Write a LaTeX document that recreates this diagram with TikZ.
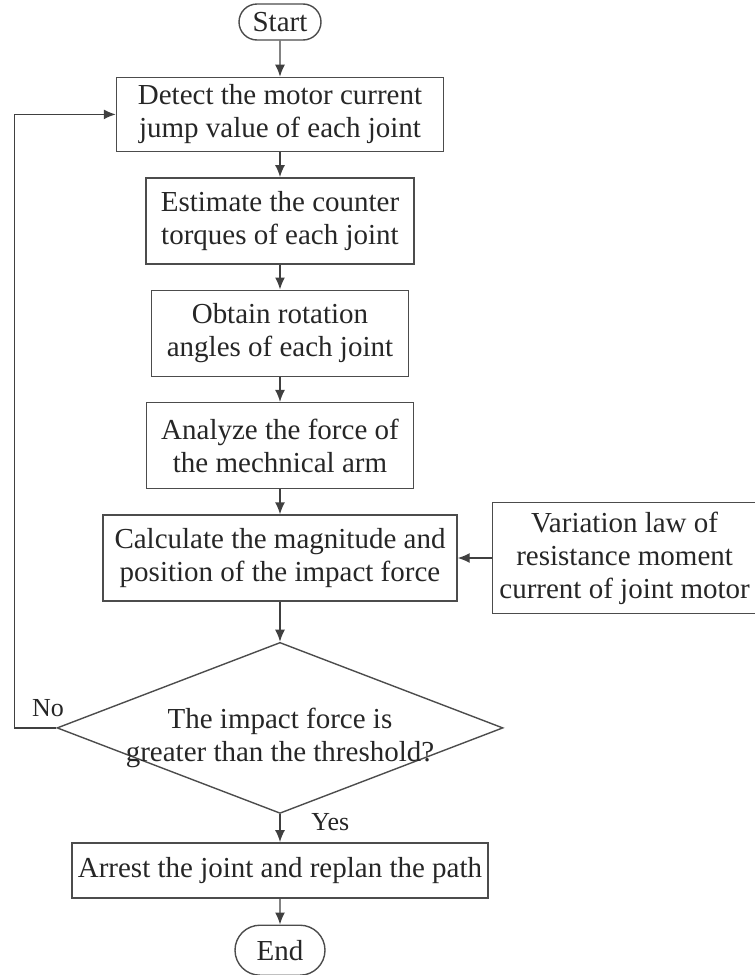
\documentclass[tikz,border=0pt]{standalone}
\usepackage{fontspec}
\setmainfont{Liberation Serif}
\usetikzlibrary{positioning, arrows.meta, shapes.geometric, shapes.misc}

\begin{document}
\begin{tikzpicture}[
    every node/.style={font=\fontsize{14.5}{16.5}\selectfont, text=black!85},
    process/.style={rectangle, draw=black!70, line width=0.7pt, align=center,
                    minimum height=43pt, inner xsep=3pt},
    terminal/.style={rounded rectangle, draw=black!70, line width=0.7pt,
                     minimum width=43pt, minimum height=18pt, inner sep=1pt},
    decision/.style={diamond, draw=black!70, line width=0.7pt,
                     minimum width=223pt, minimum height=85.5pt, inner sep=0pt},
    lbl/.style={font=\fontsize{13}{15}\selectfont},
    flow/.style={-{Latex[length=6pt, width=5pt]}, draw=black!75, line width=0.7pt},
    node distance=12.5pt
]
\useasboundingbox (0,0) rectangle (377.5pt,-487.5pt);

% Main column
\node[terminal] (start) at (140pt,-11pt) {Start};
\node[process, below=18pt of start, minimum width=163.5pt, minimum height=37pt] (detect) {Detect the motor current\\jump value of each joint};
\node[process, below=of detect, minimum width=134pt] (estimate) {Estimate the counter\\torques of each joint};
\node[process, below=of estimate, minimum width=128.5pt] (obtain) {Obtain rotation\\angles of each joint};
\node[process, below=of obtain, minimum width=133.5pt] (analyze) {Analyze the force of\\the mechnical arm};
\node[process, below=of analyze, minimum width=177pt] (calc) {Calculate the magnitude and\\position of the impact force};
\node[decision, below=20pt of calc] (dec) {};
\node[align=center] (dectxt) at ([yshift=-5pt]dec.center) {The impact force is\\greater than the threshold?};
\node[process, below=14pt of dec, minimum width=206.5pt, minimum height=27.5pt] (arrest) {Arrest the joint and replan the path};
\node[terminal, below=13pt of arrest, minimum width=47pt, minimum height=25pt] (end) {End};

% Side input
\node[process, right=17pt of calc, minimum height=55.5pt, inner xsep=3.5pt] (law) {Variation law of\\resistance moment\\current of joint motor};

% Connections
\draw[flow] (start) -- (detect);
\draw[flow] (detect) -- (estimate);
\draw[flow] (estimate) -- (obtain);
\draw[flow] (obtain) -- (analyze);
\draw[flow] (analyze) -- (calc);
\draw[flow] (law) -- (calc);
\draw[flow] (calc) -- (dec);
\draw[flow] (dec) -- node[lbl, pos=0.3, right=12pt] (yes) {Yes} (arrest);
\draw[flow] (arrest) -- (end);

\coordinate (back) at ([xshift=-21pt]dec.west);
\draw[flow] (dec.west) -- node[lbl, pos=0.2, above=2pt] (no) {No} (back) |- (detect.west);

\end{tikzpicture}
\end{document}
